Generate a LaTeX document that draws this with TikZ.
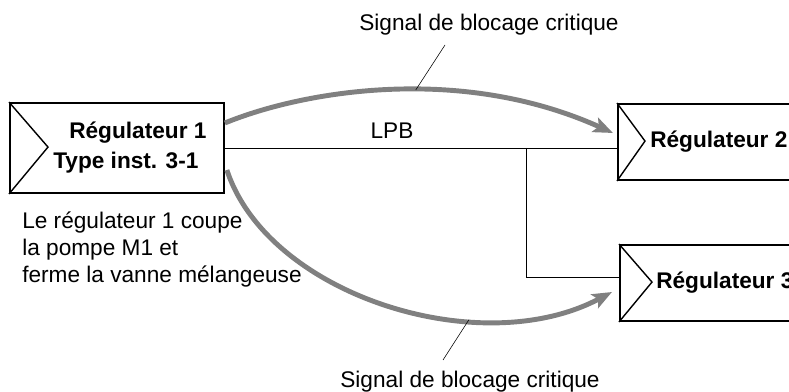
\documentclass[tikz,border=0pt]{standalone}
\usepackage{fontspec}
\setmainfont{Liberation Sans}
\usepackage{xcolor}
\usetikzlibrary{positioning,calc,arrows.meta}
\definecolor{sig}{gray}{0.5}

\begin{document}
\begin{tikzpicture}[x=0.025cm,y=-0.025cm,font=\fontsize{16.1}{19.2}\selectfont,
 r/.style={draw,line width=1.3pt,anchor=west,minimum height=1.9cm},
 t/.style={inner sep=0pt},
 bt/.style={font=\fontsize{16.1}{21}\selectfont\bfseries},
 sg/.style={draw=sig,line width=3.5pt,-{Stealth[length=14pt,width=11pt,inset=3pt]}}]
\useasboundingbox (0,0) rectangle (789,392);
\clip (0,0) rectangle (789,392);
\node[r,minimum width=5.35cm,minimum height=2.25cm] (r1) at (9,148) {};
\node[r,minimum width=6cm] (r2) at (617,142) {};
\node[r,minimum width=6cm] (r3) at (619,283) {};
\draw[line width=1pt] (r1.north west) -- ++(39,45) -- (r1.south west);
\draw[line width=1pt] (r2.north west) -- ++(28,38) -- (r2.south west);
\draw[line width=1pt] (r3.north west) -- ++(33,38) -- (r3.south west);
\node[t,bt,align=left,anchor=north west] (r1t) at (53,122) {\hspace*{11.4pt}Régulateur 1\\Type inst. 3-1};
\node[t,bt,anchor=west] (r2t) at (650,142) {Régulateur 2};
\node[t,bt,anchor=west] (r3t) at (656,283) {Régulateur 3};
\coordinate (br) at (526,148);
\draw[line width=0.7pt] (r1.east) -- (r1.east -| r2.west);
\draw[line width=0.7pt] (br) |- ($(r3.west)+(0,-6)$);
\node[t] (lpb) at (392,131) {LPB};
\draw[sg] ($(r1.east)+(0,-25)$) .. controls (303,91) and (460,64) .. ($(r2.west)+(-4,-9)$) coordinate[pos=0.56] (c1);
\draw[sg] ($(r1.east)+(2,22)$) .. controls (268,295) and (480,362) .. ($(r3.west)+(-7,9)$) coordinate[pos=0.68] (c2);
\node[t] (s1) at (489,25) {Signal de blocage critique};
\node[t] (s2) at (470,382) {Signal de blocage critique};
\coordinate (l1) at (445,45);
\coordinate (l2) at (443,360);
\draw[thin] (l1) -- (c1);
\draw[thin] (l2) -- (c2);
\node[t,align=left,anchor=north west] (note) at (22,212) {Le régulateur 1 coupe\\la pompe M1 et\\ferme la vanne mélangeuse};
\end{tikzpicture}
\end{document}
